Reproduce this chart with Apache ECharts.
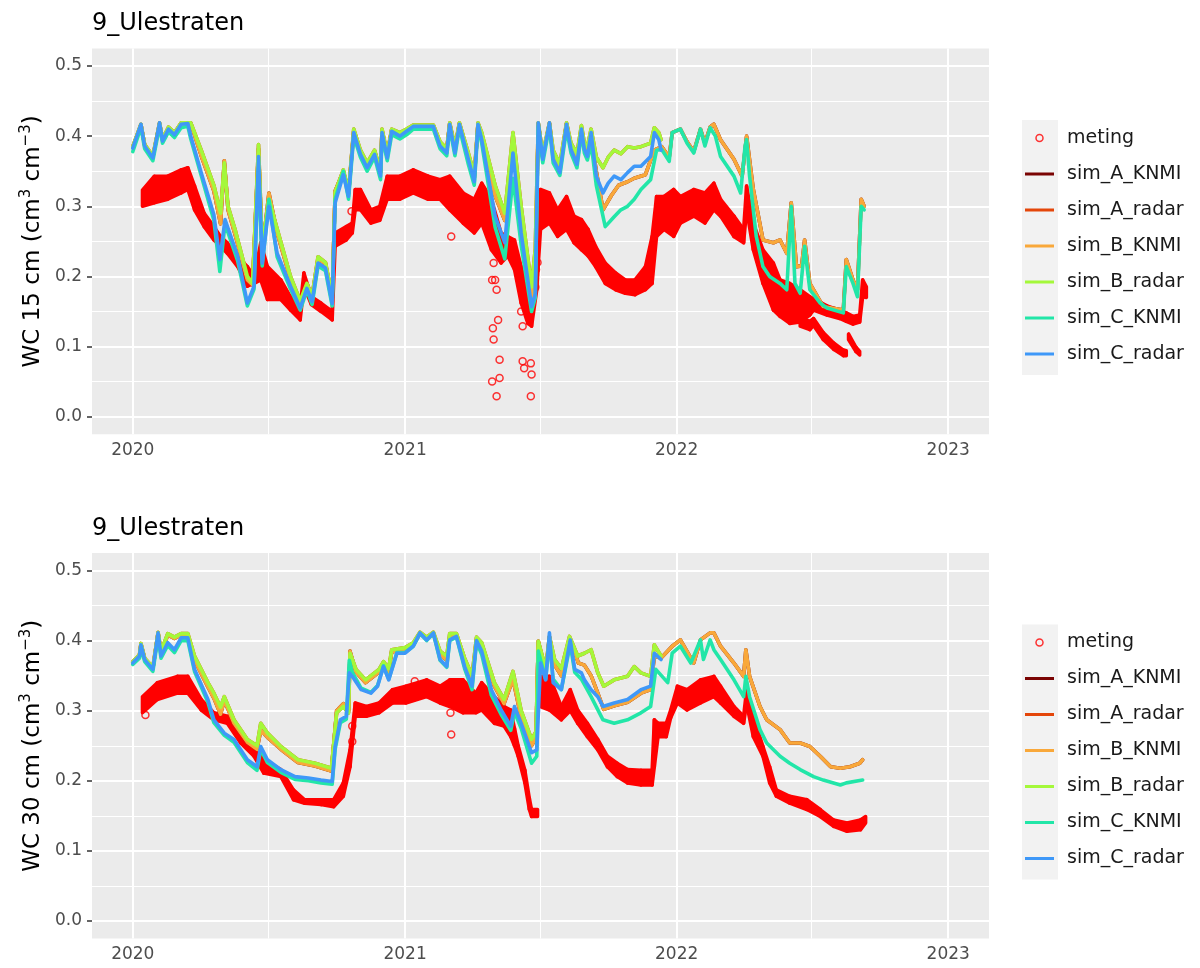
<!DOCTYPE html>
<html><head><meta charset="utf-8">
<script src="https://cdn.jsdelivr.net/npm/echarts@6/dist/echarts.min.js"></script>
<style>html,body{margin:0;padding:0;background:#fff}#c{width:1200px;height:968px}</style>
</head><body><div id="c"></div>
<script>
// ---------------- labels / ticks ----------------
const panelTitles = ['9_Ulestraten', '9_Ulestraten'];
const depthLabels = ['15', '30'];
const simNames = ['sim_A_KNMI', 'sim_A_radar', 'sim_B_KNMI', 'sim_B_radar', 'sim_C_KNMI', 'sim_C_radar'];
const simColors = ['#7A0403', '#E4460A', '#F9A83A', '#A4F83A', '#22E6A8', '#3E98F8'];
const yTickValues = [0, 0.1, 0.2, 0.3, 0.4, 0.5];
const yMinorValues = [0.05, 0.15, 0.25, 0.35, 0.45];
const xTickYears = [2020, 2021, 2022, 2023];
const xMinorDates = ['2020-07-01', '2021-07-01', '2022-07-01'];

// ---------------- 15 cm panel ----------------
const top_meting_points = [
 ['2020-10-21',0.293],['2021-03-04',0.257],['2021-04-28',0.195],['2021-04-29',0.126],['2021-04-30',0.219],
 ['2021-04-30',0.110],['2021-04-28',0.050],['2021-05-02',0.195],['2021-05-04',0.181],['2021-05-04',0.029],
 ['2021-05-06',0.138],['2021-05-08',0.081],['2021-05-08',0.055],['2021-06-06',0.150],['2021-06-08',0.129],
 ['2021-06-08',0.079],['2021-06-10',0.069],['2021-06-19',0.076],['2021-06-20',0.060],['2021-06-19',0.029],
 ['2021-06-24',0.200],['2021-06-25',0.185],['2021-06-26',0.210],['2021-06-28',0.220]
];
// [date, lowest reading, highest reading] of the dense measurement cloud
const top_meting_band = [
 ['2020-01-14',0.300,0.323],['2020-01-30',0.305,0.343],['2020-02-17',0.310,0.343],['2020-03-06',0.319,0.352],
 ['2020-03-15',0.324,0.355],['2020-03-24',0.295,0.329],['2020-04-06',0.271,0.290],['2020-04-19',0.252,0.271],
 ['2020-04-28',0.243,0.257],['2020-05-07',0.233,0.248],['2020-05-21',0.214,0.229],['2020-06-03',0.186,0.214],
 ['2020-06-12',0.190,0.200],['2020-06-21',0.195,0.248],['2020-06-30',0.167,0.214],['2020-07-18',0.167,0.195],
 ['2020-07-31',0.152,0.171],['2020-08-13',0.138,0.157],['2020-08-18',0.186,0.205],['2020-08-28',0.160,0.171],
 ['2020-09-10',0.150,0.162],['2020-09-25',0.138,0.150],['2020-09-29',0.243,0.262],['2020-10-14',0.252,0.271],
 ['2020-10-22',0.262,0.276],['2020-10-26',0.295,0.324],['2020-11-02',0.295,0.324],['2020-11-16',0.276,0.295],
 ['2020-11-28',0.280,0.300],['2020-12-08',0.310,0.343],['2020-12-25',0.310,0.343],['2021-01-12',0.319,0.352],
 ['2021-02-01',0.310,0.343],['2021-02-17',0.310,0.338],['2021-03-02',0.295,0.343],['2021-03-20',0.276,0.319],
 ['2021-04-04',0.262,0.310],['2021-04-14',0.276,0.333],['2021-04-27',0.238,0.310],['2021-05-10',0.219,0.262],
 ['2021-05-19',0.229,0.257],['2021-05-28',0.210,0.252],['2021-06-06',0.162,0.214],['2021-06-15',0.133,0.176],
 ['2021-06-20',0.129,0.162],['2021-06-27',0.181,0.238],['2021-07-02',0.267,0.324],['2021-07-14',0.276,0.319],
 ['2021-07-25',0.257,0.295],['2021-08-06',0.267,0.314],['2021-08-16',0.248,0.286],['2021-08-26',0.238,0.281],
 ['2021-09-04',0.229,0.267],['2021-09-14',0.214,0.243],['2021-09-27',0.190,0.219],['2021-10-11',0.181,0.205],
 ['2021-10-24',0.176,0.195],['2021-11-06',0.174,0.195],['2021-11-20',0.181,0.214],['2021-11-29',0.190,0.257],
 ['2021-12-05',0.257,0.314],['2021-12-15',0.267,0.314],['2021-12-28',0.257,0.324],['2022-01-06',0.276,0.314],
 ['2022-01-24',0.286,0.324],['2022-02-08',0.276,0.319],['2022-02-20',0.295,0.333],['2022-03-01',0.286,0.310],
 ['2022-03-19',0.257,0.286],['2022-04-01',0.248,0.267],['2022-04-05',0.295,0.329],['2022-04-14',0.238,0.276],
 ['2022-04-27',0.190,0.238],['2022-05-11',0.152,0.219],['2022-05-20',0.143,0.195],['2022-06-02',0.133,0.190],
 ['2022-06-16',0.135,0.181],['2022-06-29',0.145,0.171],['2022-07-04',0.152,0.168],['2022-07-22',0.145,0.158],
 ['2022-08-08',0.140,0.152],['2022-08-17',0.136,0.148],['2022-08-26',0.132,0.143],['2022-09-04',0.135,0.145],
 ['2022-09-08',0.171,0.195],['2022-09-13',0.170,0.185]
];
const top_meting_band2 = [
 ['2022-06-16',0.129,0.140],['2022-06-29',0.124,0.136],['2022-07-04',0.130,0.140],['2022-07-17',0.110,0.120],
 ['2022-07-31',0.096,0.105],['2022-08-13',0.087,0.095],['2022-08-17',0.087,0.094],['2022-08-19',null,null],
 ['2022-08-20',0.110,0.118],['2022-08-30',0.093,0.099],['2022-09-04',0.088,0.093]
];
const top_sim_B_KNMI = [
 ['2020-01-01',0.384],['2020-01-12',0.416],['2020-01-17',0.387],['2020-01-28',0.370],['2020-02-06',0.418],['2020-02-10',0.395],
 ['2020-02-18',0.412],['2020-02-26',0.404],['2020-03-06',0.418],['2020-03-19',0.418],['2020-04-02',0.372],['2020-04-19',0.322],
 ['2020-04-28',0.275],['2020-05-03',0.365],['2020-05-08',0.295],['2020-05-18',0.258],['2020-06-03',0.195],['2020-06-10',0.188],
 ['2020-06-18',0.382],['2020-06-23',0.235],['2020-07-02',0.319],['2020-07-13',0.262],['2020-07-31',0.196],['2020-08-13',0.160],
 ['2020-08-22',0.188],['2020-08-29',0.170],['2020-09-06',0.225],['2020-09-16',0.218],['2020-09-25',0.168],['2020-09-29',0.322],
 ['2020-10-10',0.350],['2020-10-17',0.318],['2020-10-24',0.408],['2020-11-02',0.378],['2020-11-11',0.360],['2020-11-21',0.378],
 ['2020-11-29',0.348],['2020-12-01',0.408],['2020-12-08',0.373],['2020-12-14',0.409],['2020-12-25',0.403],['2021-01-03',0.409],
 ['2021-01-12',0.415],['2021-02-08',0.415],['2021-02-17',0.390],['2021-02-26',0.380],['2021-03-02',0.418],['2021-03-09',0.382],
 ['2021-03-15',0.418],['2021-03-27',0.372],['2021-04-04',0.340],['2021-04-09',0.418],['2021-04-14',0.400],['2021-05-02',0.315],
 ['2021-05-15',0.280],['2021-05-26',0.395],['2021-06-06',0.285],['2021-06-20',0.170],['2021-06-25',0.200],['2021-06-29',0.418],
 ['2021-07-05',0.370],['2021-07-14',0.418],['2021-07-19',0.372],['2021-07-28',0.352],['2021-08-06',0.418],['2021-08-12',0.385],
 ['2021-08-20',0.365],['2021-08-26',0.412],['2021-08-30',0.385],['2021-09-03',0.378],['2021-09-08',0.400],['2021-09-15',0.350],
 ['2021-09-24',0.295],['2021-10-05',0.315],['2021-10-15',0.330],['2021-10-27',0.335],['2021-11-05',0.340],['2021-11-20',0.345],
 ['2021-12-02',0.380],['2021-12-12',0.385],['2021-12-22',0.370],['2021-12-26',0.405],['2022-01-06',0.410],['2022-01-15',0.392],
 ['2022-01-24',0.378],['2022-02-02',0.410],['2022-02-08',0.390],['2022-02-15',0.413],['2022-02-20',0.417],['2022-03-01',0.395],
 ['2022-03-19',0.367],['2022-03-30',0.343],['2022-04-05',0.400],['2022-04-14',0.324],['2022-04-27',0.252],['2022-05-11',0.248],
 ['2022-05-20',0.252],['2022-05-29',0.233],['2022-06-04',0.305],['2022-06-11',0.214],['2022-06-18',0.215],['2022-06-22',0.252],
 ['2022-06-29',0.190],['2022-07-17',0.157],['2022-08-13',0.152],['2022-08-17',0.224],['2022-08-26',0.195],['2022-09-01',0.181],
 ['2022-09-06',0.310],['2022-09-10',0.300]
];
const top_sim_B_radar = [
 ['2020-01-01',0.385],['2020-01-12',0.417],['2020-01-17',0.388],['2020-01-28',0.372],['2020-02-06',0.419],['2020-02-10',0.396],
 ['2020-02-18',0.413],['2020-02-26',0.405],['2020-03-06',0.419],['2020-03-19',0.419],['2020-04-02',0.380],['2020-04-19',0.330],
 ['2020-04-28',0.290],['2020-05-03',0.362],['2020-05-08',0.300],['2020-05-18',0.265],['2020-06-03',0.200],['2020-06-10',0.190],
 ['2020-06-18',0.388],['2020-06-23',0.240],['2020-07-02',0.310],['2020-07-13',0.268],['2020-07-31',0.200],['2020-08-13',0.165],
 ['2020-08-22',0.190],['2020-08-29',0.172],['2020-09-06',0.228],['2020-09-16',0.220],['2020-09-25',0.170],['2020-09-29',0.320],
 ['2020-10-10',0.352],['2020-10-17',0.320],['2020-10-24',0.410],['2020-11-02',0.380],['2020-11-11',0.362],['2020-11-21',0.380],
 ['2020-11-29',0.350],['2020-12-01',0.410],['2020-12-08',0.375],['2020-12-14',0.410],['2020-12-25',0.405],['2021-01-03',0.410],
 ['2021-01-12',0.416],['2021-02-08',0.416],['2021-02-17',0.392],['2021-02-26',0.382],['2021-03-02',0.419],['2021-03-09',0.385],
 ['2021-03-15',0.419],['2021-03-27',0.376],['2021-04-04',0.345],['2021-04-09',0.419],['2021-04-14',0.405],['2021-05-02',0.330],
 ['2021-05-15',0.290],['2021-05-26',0.405],['2021-06-06',0.300],['2021-06-20',0.185],['2021-06-25',0.240],['2021-06-29',0.419],
 ['2021-07-05',0.375],['2021-07-14',0.419],['2021-07-19',0.380],['2021-07-28',0.360],['2021-08-06',0.419],['2021-08-12',0.390],
 ['2021-08-20',0.375],['2021-08-26',0.415],['2021-08-30',0.390],['2021-09-03',0.385],['2021-09-08',0.410],['2021-09-15',0.370],
 ['2021-09-24',0.355],['2021-10-01',0.370],['2021-10-09',0.380],['2021-10-18',0.375],['2021-10-27',0.385],['2021-11-05',0.383],
 ['2021-11-14',0.385],['2021-11-27',0.390],['2021-12-02',0.412],['2021-12-08',0.405],['2021-12-11',0.395]
];
const top_sim_C_KNMI = [
 ['2020-01-01',0.378],['2020-01-12',0.412],['2020-01-17',0.382],['2020-01-28',0.365],['2020-02-06',0.414],['2020-02-10',0.390],
 ['2020-02-18',0.406],['2020-02-26',0.398],['2020-03-06',0.412],['2020-03-15',0.414],['2020-03-19',0.396],['2020-04-02',0.344],
 ['2020-04-19',0.280],['2020-04-27',0.207],['2020-05-04',0.275],['2020-05-21',0.222],['2020-06-03',0.158],['2020-06-12',0.182],
 ['2020-06-18',0.355],['2020-06-23',0.215],['2020-07-02',0.310],['2020-07-13',0.228],['2020-07-31',0.182],['2020-08-13',0.152],
 ['2020-08-22',0.180],['2020-08-29',0.160],['2020-09-06',0.215],['2020-09-16',0.208],['2020-09-25',0.158],['2020-09-29',0.310],
 ['2020-10-10',0.350],['2020-10-17',0.310],['2020-10-24',0.400],['2020-11-02',0.370],['2020-11-11',0.350],['2020-11-21',0.370],
 ['2020-11-29',0.338],['2020-12-01',0.400],['2020-12-08',0.365],['2020-12-14',0.402],['2020-12-25',0.396],['2021-01-03',0.402],
 ['2021-01-12',0.410],['2021-02-08',0.410],['2021-02-17',0.382],['2021-02-26',0.372],['2021-03-02',0.412],['2021-03-09',0.372],
 ['2021-03-15',0.412],['2021-03-27',0.360],['2021-04-04',0.330],['2021-04-09',0.412],['2021-04-14',0.390],['2021-05-02',0.270],
 ['2021-05-15',0.225],['2021-05-26',0.340],['2021-06-06',0.245],['2021-06-20',0.150],['2021-06-25',0.170],['2021-06-29',0.414],
 ['2021-07-05',0.362],['2021-07-14',0.414],['2021-07-19',0.362],['2021-07-28',0.344],['2021-08-06',0.410],['2021-08-12',0.376],
 ['2021-08-20',0.355],['2021-08-26',0.405],['2021-08-30',0.376],['2021-09-03',0.366],['2021-09-08',0.390],['2021-09-15',0.330],
 ['2021-09-27',0.271],['2021-10-09',0.285],['2021-10-18',0.295],['2021-10-27',0.300],['2021-11-05',0.310],['2021-11-14',0.324],
 ['2021-11-27',0.338],['2021-12-05',0.380],['2021-12-12',0.381],['2021-12-22',0.364],['2021-12-26',0.405],['2022-01-06',0.410],
 ['2022-01-15',0.390],['2022-01-24',0.376],['2022-02-02',0.410],['2022-02-08',0.386],['2022-02-15',0.412],['2022-02-22',0.400],
 ['2022-03-01',0.371],['2022-03-19',0.343],['2022-03-28',0.319],['2022-04-03',0.386],['2022-04-05',0.395],['2022-04-09',0.343],
 ['2022-04-18',0.257],['2022-04-27',0.214],['2022-05-06',0.200],['2022-05-20',0.190],['2022-05-29',0.181],['2022-06-04',0.300],
 ['2022-06-09',0.190],['2022-06-16',0.176],['2022-06-22',0.243],['2022-06-29',0.181],['2022-07-13',0.162],['2022-07-22',0.155],
 ['2022-08-13',0.148],['2022-08-17',0.214],['2022-08-26',0.190],['2022-09-01',0.171],['2022-09-06',0.300],['2022-09-10',0.295]
];
const top_sim_C_radar = [
 ['2020-01-01',0.383],['2020-01-12',0.417],['2020-01-17',0.386],['2020-01-28',0.369],['2020-02-06',0.419],['2020-02-10',0.393],
 ['2020-02-18',0.410],['2020-02-26',0.402],['2020-03-06',0.417],['2020-03-15',0.418],['2020-03-19',0.400],['2020-04-02',0.348],
 ['2020-04-19',0.288],['2020-04-27',0.224],['2020-05-04',0.281],['2020-05-21',0.229],['2020-06-03',0.162],['2020-06-12',0.186],
 ['2020-06-18',0.371],['2020-06-23',0.219],['2020-07-02',0.300],['2020-07-13',0.233],['2020-07-31',0.186],['2020-08-13',0.155],
 ['2020-08-22',0.183],['2020-08-29',0.164],['2020-09-06',0.219],['2020-09-16',0.212],['2020-09-25',0.161],['2020-09-29',0.305],
 ['2020-10-10',0.345],['2020-10-17',0.314],['2020-10-24',0.405],['2020-11-02',0.374],['2020-11-11',0.355],['2020-11-21',0.374],
 ['2020-11-29',0.343],['2020-12-01',0.405],['2020-12-08',0.369],['2020-12-14',0.407],['2020-12-25',0.400],['2021-01-03',0.407],
 ['2021-01-12',0.414],['2021-02-08',0.414],['2021-02-17',0.386],['2021-02-26',0.376],['2021-03-02',0.417],['2021-03-09',0.376],
 ['2021-03-15',0.417],['2021-03-27',0.367],['2021-04-04',0.335],['2021-04-09',0.417],['2021-04-14',0.395],['2021-05-02',0.286],
 ['2021-05-15',0.248],['2021-05-26',0.376],['2021-06-06',0.262],['2021-06-20',0.157],['2021-06-25',0.175],['2021-06-29',0.419],
 ['2021-07-05',0.367],['2021-07-14',0.419],['2021-07-19',0.367],['2021-07-28',0.348],['2021-08-06',0.417],['2021-08-12',0.381],
 ['2021-08-20',0.360],['2021-08-26',0.410],['2021-08-30',0.381],['2021-09-03',0.371],['2021-09-08',0.405],['2021-09-15',0.343],
 ['2021-09-24',0.319],['2021-10-01',0.333],['2021-10-09',0.343],['2021-10-18',0.338],['2021-10-27',0.348],['2021-11-05',0.357],
 ['2021-11-14',0.357],['2021-11-27',0.371],['2021-12-02',0.405],['2021-12-08',0.395],['2021-12-11',0.380]
];
// sim_A runs lie underneath the sim_B runs in the reference
const top_sim_A_KNMI = top_sim_B_KNMI;
const top_sim_A_radar = top_sim_B_radar;

// ---------------- 30 cm panel ----------------
const bot_meting_points = [
 ['2020-01-18',0.294],['2020-10-22',0.278],['2020-10-22',0.256],['2021-01-14',0.342],['2021-03-03',0.297],['2021-03-04',0.266]
];
const bot_meting_band = [
 ['2020-01-14',0.297,0.320],['2020-02-03',0.316,0.340],['2020-03-01',0.325,0.349],['2020-03-15',0.325,0.349],
 ['2020-04-02',0.301,0.316],['2020-04-19',0.287,0.297],['2020-05-07',0.282,0.292],['2020-05-25',0.254,0.268],
 ['2020-06-12',0.235,0.244],['2020-06-25',0.211,0.230],['2020-07-18',0.206,0.216],['2020-08-04',0.173,0.187],
 ['2020-08-19',0.168,0.173],['2020-09-10',0.166,0.173],['2020-09-27',0.163,0.173],['2020-10-10',0.178,0.197],
 ['2020-10-19',0.220,0.244],['2020-10-26',0.292,0.311],['2020-11-10',0.292,0.306],['2020-11-27',0.297,0.311],
 ['2020-12-15',0.311,0.330],['2021-01-02',0.311,0.335],['2021-01-30',0.320,0.344],['2021-02-17',0.311,0.335],
 ['2021-03-02',0.306,0.344],['2021-03-20',0.297,0.344],['2021-04-06',0.297,0.325],['2021-04-14',0.301,0.340],
 ['2021-05-01',0.282,0.320],['2021-05-14',0.278,0.306],['2021-05-23',0.263,0.301],['2021-05-28',0.250,0.275],
 ['2021-06-02',0.235,0.250],['2021-06-11',0.197,0.215],['2021-06-17',0.159,0.175],['2021-06-20',0.149,0.159],
 ['2021-06-28',0.149,0.159],['2021-06-30',null,null],['2021-07-02',0.306,0.349],['2021-07-14',0.301,0.349],
 ['2021-07-30',0.287,0.306],['2021-08-11',0.300,0.330],['2021-08-21',0.282,0.301],['2021-09-03',0.263,0.282],
 ['2021-09-17',0.244,0.259],['2021-09-30',0.220,0.235],['2021-10-13',0.206,0.225],['2021-10-27',0.197,0.216],
 ['2021-11-14',0.194,0.215],['2021-11-29',0.194,0.215],['2021-12-02',0.220,0.287],['2021-12-07',0.263,0.282],
 ['2021-12-18',0.263,0.282],['2021-12-24',0.290,0.301],['2022-01-02',0.311,0.335],['2022-01-15',0.301,0.330],
 ['2022-02-02',0.311,0.344],['2022-02-20',0.320,0.349],['2022-03-01',0.311,0.335],['2022-03-19',0.292,0.306],
 ['2022-04-01',0.282,0.292],['2022-04-05',0.310,0.330],['2022-04-14',0.263,0.292],['2022-04-27',0.235,0.249],
 ['2022-05-06',0.197,0.220],['2022-05-15',0.178,0.187],['2022-06-02',0.168,0.178],['2022-06-25',0.159,0.173],
 ['2022-07-13',0.149,0.159],['2022-07-31',0.135,0.144],['2022-08-18',0.128,0.140],['2022-09-05',0.130,0.144],
 ['2022-09-12',0.140,0.149]
];
const bot_sim_B_KNMI = [
 ['2020-01-01',0.369],['2020-01-10',0.379],['2020-01-12',0.395],['2020-01-17',0.374],['2020-01-28',0.360],['2020-02-04',0.411],
 ['2020-02-08',0.383],['2020-02-17',0.408],['2020-02-26',0.403],['2020-03-06',0.408],['2020-03-15',0.408],['2020-03-24',0.372],
 ['2020-04-11',0.334],['2020-04-19',0.318],['2020-04-28',0.295],['2020-05-03',0.315],['2020-05-16',0.282],['2020-06-03',0.255],
 ['2020-06-16',0.245],['2020-06-21',0.272],['2020-06-30',0.262],['2020-07-18',0.245],['2020-08-10',0.226],['2020-09-02',0.221],
 ['2020-09-24',0.214],['2020-10-01',0.300],['2020-10-10',0.310],['2020-10-17',0.300],['2020-10-19',0.385],['2020-10-27',0.355],
 ['2020-11-09',0.340],['2020-11-27',0.355],['2020-12-03',0.366],['2020-12-10',0.356],['2020-12-14',0.384],['2021-01-01',0.386],
 ['2021-01-12',0.394],['2021-01-21',0.410],['2021-01-30',0.403],['2021-02-08',0.410],['2021-02-17',0.380],['2021-02-26',0.372],
 ['2021-03-02',0.405],['2021-03-11',0.407],['2021-03-22',0.370],['2021-04-01',0.342],['2021-04-07',0.402],['2021-04-14',0.392],
 ['2021-05-01',0.335],['2021-05-14',0.310],['2021-05-26',0.345],['2021-06-06',0.290],['2021-06-20',0.250],['2021-06-26',0.262],
 ['2021-06-29',0.399],['2021-07-09',0.355],['2021-07-14',0.405],['2021-07-21',0.365],['2021-07-30',0.350],['2021-08-11',0.402],
 ['2021-08-22',0.368],['2021-08-30',0.365],['2021-09-08',0.350],['2021-09-17',0.325],['2021-09-25',0.302],['2021-10-09',0.307],
 ['2021-10-27',0.312],['2021-11-14',0.325],['2021-11-27',0.330],['2021-12-02',0.378],['2021-12-11',0.375],['2021-12-26',0.392],
 ['2022-01-06',0.401],['2022-01-24',0.368],['2022-02-02',0.401],['2022-02-15',0.411],['2022-02-20',0.411],['2022-03-01',0.392],
 ['2022-03-19',0.368],['2022-04-01',0.349],['2022-04-04',0.387],['2022-04-09',0.349],['2022-04-23',0.306],['2022-05-02',0.287],
 ['2022-05-20',0.273],['2022-06-02',0.254],['2022-06-16',0.254],['2022-06-29',0.249],['2022-07-13',0.235],['2022-07-27',0.220],
 ['2022-08-09',0.218],['2022-08-22',0.220],['2022-09-04',0.225],['2022-09-08',0.230]
];
const bot_sim_B_radar = [
 ['2020-01-01',0.370],['2020-01-10',0.380],['2020-01-12',0.396],['2020-01-17',0.375],['2020-01-28',0.362],['2020-02-04',0.412],
 ['2020-02-08',0.385],['2020-02-17',0.410],['2020-02-26',0.405],['2020-03-06',0.410],['2020-03-15',0.410],['2020-03-24',0.378],
 ['2020-04-11',0.340],['2020-04-19',0.325],['2020-04-28',0.305],['2020-05-03',0.320],['2020-05-16',0.287],['2020-06-03',0.259],
 ['2020-06-16',0.250],['2020-06-21',0.282],['2020-06-30',0.268],['2020-07-18',0.249],['2020-08-10',0.230],['2020-09-02',0.225],
 ['2020-09-24',0.218],['2020-10-01',0.297],['2020-10-10',0.306],['2020-10-17',0.297],['2020-10-19',0.382],['2020-10-27',0.359],
 ['2020-11-09',0.344],['2020-11-27',0.359],['2020-12-03',0.370],['2020-12-10',0.360],['2020-12-14',0.387],['2021-01-01',0.390],
 ['2021-01-12',0.397],['2021-01-21',0.412],['2021-01-30',0.405],['2021-02-08',0.412],['2021-02-17',0.385],['2021-02-26',0.378],
 ['2021-03-02',0.410],['2021-03-11',0.410],['2021-03-22',0.375],['2021-04-01',0.350],['2021-04-07',0.405],['2021-04-14',0.397],
 ['2021-05-01',0.340],['2021-05-14',0.316],['2021-05-26',0.356],['2021-06-06',0.300],['2021-06-20',0.259],['2021-06-26',0.270],
 ['2021-06-29',0.399],['2021-07-09',0.360],['2021-07-14',0.406],['2021-07-21',0.373],['2021-07-30',0.360],['2021-08-10',0.406],
 ['2021-08-21',0.378],['2021-08-30',0.382],['2021-09-08',0.387],['2021-09-17',0.354],['2021-09-25',0.335],['2021-10-09',0.344],
 ['2021-10-27',0.349],['2021-11-05',0.363],['2021-11-14',0.354],['2021-11-27',0.349],['2021-12-02',0.394],['2021-12-11',0.378]
];
const bot_sim_C_KNMI = [
 ['2020-01-01',0.366],['2020-01-10',0.375],['2020-01-12',0.390],['2020-01-17',0.370],['2020-01-28',0.356],['2020-02-04',0.405],
 ['2020-02-08',0.375],['2020-02-17',0.393],['2020-02-26',0.383],['2020-03-06',0.400],['2020-03-15',0.400],['2020-03-24',0.356],
 ['2020-04-11',0.312],['2020-04-19',0.283],['2020-05-03',0.265],['2020-05-16',0.255],['2020-06-03',0.226],['2020-06-16',0.215],
 ['2020-06-21',0.245],['2020-06-30',0.226],['2020-07-18',0.212],['2020-08-06',0.202],['2020-08-24',0.200],['2020-09-10',0.197],
 ['2020-09-25',0.195],['2020-09-29',0.245],['2020-10-06',0.283],['2020-10-14',0.288],['2020-10-18',0.372],['2020-10-22',0.355],
 ['2020-11-03',0.332],['2020-11-16',0.326],['2020-11-25',0.336],['2020-12-03',0.364],['2020-12-10',0.345],['2020-12-21',0.383],
 ['2021-01-01',0.383],['2021-01-12',0.392],['2021-01-21',0.410],['2021-01-30',0.400],['2021-02-08',0.410],['2021-02-17',0.372],
 ['2021-02-26',0.362],['2021-03-02',0.400],['2021-03-11',0.405],['2021-03-22',0.360],['2021-04-01',0.330],['2021-04-07',0.398],
 ['2021-04-14',0.380],['2021-04-27',0.322],['2021-05-10',0.295],['2021-05-23',0.272],['2021-05-28',0.298],['2021-06-06',0.275],
 ['2021-06-20',0.225],['2021-06-27',0.235],['2021-06-29',0.385],['2021-07-09',0.345],['2021-07-14',0.400],['2021-07-19',0.345],
 ['2021-07-30',0.330],['2021-08-11',0.395],['2021-08-17',0.355],['2021-08-26',0.345],['2021-09-08',0.320],['2021-09-24',0.287],
 ['2021-10-09',0.282],['2021-10-27',0.287],['2021-11-14',0.297],['2021-11-27',0.306],['2021-12-04',0.359],['2021-12-20',0.340],
 ['2021-12-26',0.382],['2022-01-06',0.392],['2022-01-20',0.368],['2022-02-02',0.401],['2022-02-06',0.373],['2022-02-15',0.401],
 ['2022-02-20',0.387],['2022-03-01',0.373],['2022-03-19',0.344],['2022-04-01',0.320],['2022-04-04',0.349],['2022-04-09',0.320],
 ['2022-04-23',0.273],['2022-05-02',0.254],['2022-05-20',0.235],['2022-06-02',0.225],['2022-06-16',0.216],['2022-07-04',0.206],
 ['2022-07-17',0.201],['2022-08-09',0.194],['2022-08-17',0.197],['2022-09-08',0.201]
];
const bot_sim_C_radar = [
 ['2020-01-01',0.368],['2020-01-10',0.378],['2020-01-12',0.394],['2020-01-17',0.373],['2020-01-28',0.359],['2020-02-04',0.411],
 ['2020-02-08',0.378],['2020-02-17',0.397],['2020-02-26',0.387],['2020-03-06',0.404],['2020-03-15',0.404],['2020-03-24',0.359],
 ['2020-04-11',0.316],['2020-04-19',0.287],['2020-05-03',0.268],['2020-05-16',0.259],['2020-06-03',0.230],['2020-06-16',0.220],
 ['2020-06-21',0.249],['2020-06-30',0.230],['2020-07-18',0.216],['2020-08-06',0.206],['2020-08-24',0.204],['2020-09-10',0.201],
 ['2020-09-25',0.199],['2020-09-29',0.249],['2020-10-06',0.287],['2020-10-14',0.292],['2020-10-18',0.354],['2020-10-22',0.349],
 ['2020-11-03',0.330],['2020-11-16',0.325],['2020-11-25',0.335],['2020-12-03',0.363],['2020-12-10',0.344],['2020-12-21',0.382],
 ['2021-01-01',0.382],['2021-01-12',0.392],['2021-01-21',0.411],['2021-01-30',0.401],['2021-02-08',0.411],['2021-02-17',0.373],
 ['2021-02-26',0.363],['2021-03-02',0.401],['2021-03-11',0.406],['2021-03-22',0.363],['2021-04-01',0.335],['2021-04-07',0.400],
 ['2021-04-14',0.385],['2021-04-27',0.330],['2021-05-10',0.301],['2021-05-23',0.278],['2021-05-28',0.306],['2021-06-06',0.282],
 ['2021-06-20',0.240],['2021-06-27',0.244],['2021-07-02',0.368],['2021-07-09',0.344],['2021-07-14',0.411],['2021-07-19',0.340],
 ['2021-07-30',0.330],['2021-08-11',0.401],['2021-08-17',0.359],['2021-08-26',0.354],['2021-08-30',0.344],['2021-09-08',0.330],
 ['2021-09-17',0.320],['2021-09-24',0.306],['2021-10-09',0.311],['2021-10-27',0.316],['2021-11-14',0.330],['2021-11-27',0.335],
 ['2021-12-02',0.382],['2021-12-11',0.373]
];
const bot_sim_A_KNMI = bot_sim_B_KNMI;
const bot_sim_A_radar = bot_sim_B_radar;

// ---------------- build chart ----------------
const FONT = 'DejaVu Sans';
const DAY = 86400000;
const ts = s => { const p = s.split('-').map(Number); return new Date(p[0], p[1] - 1, p[2]).getTime(); };
const xMin = new Date(2020, 0, 1).getTime() - 54.8 * DAY;
const xMax = new Date(2023, 0, 1).getTime() + 54.8 * DAY;
const yearTs = xTickYears.map(y => new Date(y, 0, 1).getTime());
const toXY = arr => arr.map(r => [ts(r[0]), r[1]]);
// consecutive band rows -> quadrilateral pieces (date1, low1, high1, date2, low2, high2)
const toBandPieces = rows => {
  const out = [];
  for (let i = 0; i < rows.length - 1; i++) {
    const a = rows[i], b = rows[i + 1];
    if (a[1] == null || b[1] == null) continue;
    out.push([ts(a[0]), a[1], a[2], ts(b[0]), b[1], b[2]]);
  }
  return out;
};

const panels = [
  { meting: top_meting_points, bands: [top_meting_band, top_meting_band2],
    sims: [top_sim_A_KNMI, top_sim_A_radar, top_sim_B_KNMI, top_sim_B_radar, top_sim_C_KNMI, top_sim_C_radar] },
  { meting: bot_meting_points, bands: [bot_meting_band],
    sims: [bot_sim_A_KNMI, bot_sim_A_radar, bot_sim_B_KNMI, bot_sim_B_radar, bot_sim_C_KNMI, bot_sim_C_radar] }
];
const layout = [{ top: 48.5, height: 385.7 }, { top: 553, height: 385.5 }];
const PANEL_SHIFT = 504.5;

const grids = [], xAxes = [], yAxes = [], series = [], titles = [], legends = [], graphics = [];
const lineIcon = 'path://M0,0L29,0L29,3L0,3Z';

panels.forEach((p, gi) => {
  grids.push({ left: 92, width: 897, top: layout[gi].top, height: layout[gi].height,
    show: true, backgroundColor: '#EBEBEB', borderWidth: 0 });
  xAxes.push({ type: 'value', gridIndex: gi, min: xMin, max: xMax, scale: true,
    axisLine: { show: false }, splitLine: { show: false },
    axisTick: { show: true, customValues: yearTs, length: 5, lineStyle: { color: '#333', width: 1.5 } },
    axisLabel: { customValues: yearTs, margin: 8, color: '#4D4D4D', fontSize: 17, fontFamily: FONT,
      formatter: v => String(new Date(v).getFullYear()) } });
  yAxes.push({ type: 'value', gridIndex: gi, min: -0.025, max: 0.525,
    axisLine: { show: false }, splitLine: { show: false },
    axisTick: { show: true, customValues: yTickValues, length: 5, lineStyle: { color: '#333', width: 1.5 } },
    axisLabel: { customValues: yTickValues, margin: 10, color: '#4D4D4D', fontSize: 17, fontFamily: FONT,
      formatter: v => v.toFixed(1) },
    name: '{a|WC ' + depthLabels[gi] + ' cm (cm}{s|3}{a| cm}{s|\u22123}{a|)}',
    nameLocation: 'middle', nameGap: 44,
    nameTextStyle: { rich: {
      a: { fontSize: 23, fontFamily: FONT, color: '#000', lineHeight: 28 },
      s: { fontSize: 15, fontFamily: FONT, color: '#000', verticalAlign: 'top', lineHeight: 17 } } } });

  // panel grid lines
  const gl = [];
  yTickValues.forEach(v => gl.push({ yAxis: v, lineStyle: { color: '#fff', width: 2, type: 'solid' } }));
  yMinorValues.forEach(v => gl.push({ yAxis: v, lineStyle: { color: '#fff', width: 1, type: 'solid' } }));
  yearTs.forEach(v => gl.push({ xAxis: v, lineStyle: { color: '#fff', width: 2, type: 'solid' } }));
  xMinorDates.forEach(d => gl.push({ xAxis: ts(d), lineStyle: { color: '#fff', width: 1, type: 'solid' } }));
  series.push({ type: 'line', xAxisIndex: gi, yAxisIndex: gi, data: [], silent: true, z: 1,
    markLine: { silent: true, z: 1, symbol: ['none', 'none'], label: { show: false }, animation: false, data: gl } });

  // measurements: isolated points
  series.push({ type: 'scatter', name: 'meting', xAxisIndex: gi, yAxisIndex: gi, data: toXY(p.meting),
    symbol: 'circle', symbolSize: 7, z: 2,
    itemStyle: { color: 'rgba(255,0,0,0)', borderColor: '#ff0000', borderWidth: 1.5 } });
  // measurements: dense cloud, drawn between lowest and highest readings
  p.bands.forEach(rows => {
    series.push({ type: 'custom', name: 'meting', xAxisIndex: gi, yAxisIndex: gi, z: 2, silent: true,
      data: toBandPieces(rows), encode: { x: [0, 3], y: [1, 2, 4, 5] },
      renderItem: (params, api) => {
        const a1 = api.coord([api.value(0), api.value(1)]);
        const a2 = api.coord([api.value(0), api.value(2)]);
        const b2 = api.coord([api.value(3), api.value(5)]);
        const b1 = api.coord([api.value(3), api.value(4)]);
        return { type: 'polygon', shape: { points: [a1, b1, b2, a2] },
          style: { fill: '#ff0000', stroke: '#ff0000', lineWidth: 3.5, lineJoin: 'round' } };
      } });
  });
  // simulations
  p.sims.forEach((d, si) => {
    series.push({ type: 'line', name: simNames[si], xAxisIndex: gi, yAxisIndex: gi, data: toXY(d),
      symbol: 'none', showSymbol: false, z: 3,
      lineStyle: { color: simColors[si], width: 3.6, join: 'round', cap: 'round' },
      itemStyle: { color: simColors[si] } });
  });

  const dy = gi * PANEL_SHIFT;
  titles.push({ text: panelTitles[gi], left: 92, top: 12 + dy, padding: 0,
    textStyle: { fontSize: 24, fontWeight: 'normal', color: '#000', fontFamily: FONT } });
  legends.push({ orient: 'vertical', left: 1025, top: 127 + dy, padding: 0,
    itemWidth: 29, itemHeight: 7, itemGap: 14, selectedMode: false,
    textStyle: { fontSize: 19, fontFamily: FONT, color: '#1a1a1a', lineHeight: 22, padding: [0, 0, 0, 8] },
    data: [{ name: 'meting', icon: 'circle',
             itemStyle: { color: 'rgba(255,0,0,0)', borderColor: '#ff0000', borderWidth: 1.5 } }]
      .concat(simNames.map((n, si) => ({ name: n, icon: lineIcon,
             itemStyle: { color: simColors[si], borderWidth: 0 } }))) });
  graphics.push({ type: 'rect', left: 1022, top: 120 + dy, z: -1,
    shape: { width: 36, height: 255 }, style: { fill: '#F2F2F2' } });
});

const chart = echarts.init(document.getElementById('c'), null, { renderer: 'canvas' });
chart.setOption({
  animation: false,
  backgroundColor: '#ffffff',
  textStyle: { fontFamily: FONT },
  title: titles, legend: legends, grid: grids, xAxis: xAxes, yAxis: yAxes,
  graphic: graphics, series: series
});
</script></body></html>
